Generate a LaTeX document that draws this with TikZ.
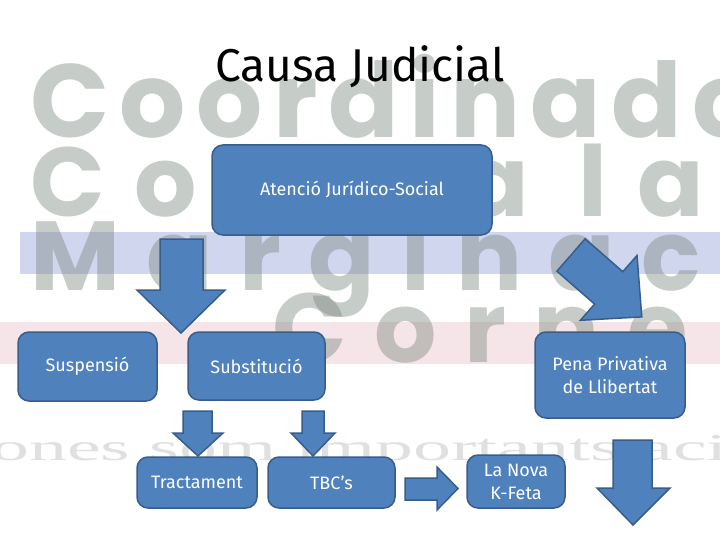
\documentclass[tikz,border=0pt]{standalone}
\usepackage{fontspec}
\setmainfont{Fira Sans}
\newfontfamily\bgfont{Poppins}
\newfontfamily\bgsmall{Liberation Serif}
\definecolor{boxfill}{RGB}{79,129,189}
\definecolor{boxline}{RGB}{56,93,138}
\definecolor{bggray}{RGB}{120,134,126}
\definecolor{bgblue}{RGB}{208,214,238}
\definecolor{bgpink}{RGB}{246,229,232}
\definecolor{bglight}{RGB}{200,200,200}
\tikzset{
  boxnode/.style={draw=boxline, fill=boxfill, line width=1.5pt, rounded corners=11pt,
    text=white, font=\fontsize{18}{23}\selectfont, align=center, inner sep=0pt},
  blockarrow/.style={draw=boxline, fill=boxfill, line width=1.5pt, line join=miter},
  bgword/.style={text=bggray, opacity=0.42, anchor=base west, inner sep=0pt,
    font=\bgfont\bfseries\fontsize{98}{98}\selectfont\addfontfeature{LetterSpace=28}}
}
\begin{document}
\begin{tikzpicture}[x=1pt,y=-1pt]
\useasboundingbox (0,0) rectangle (720,540);
\fill[white] (0,0) rectangle (720,540);
% faded background logo
\begin{scope}
\clip (0,0) rectangle (720,540);
\fill[bgblue] (20,232) rectangle (720,274);
\fill[bgpink] (0,322) rectangle (720,364);
\node[bgword, font=\bgfont\bfseries\fontsize{104}{104}\selectfont\addfontfeature{LetterSpace=10}] (bg1) at (30,138) {Coordinadora};
\node[bgword, font=\bgfont\bfseries\fontsize{98}{98}\selectfont\addfontfeature{LetterSpace=30}] (bg2) at (30,217) {Contra la};
\node[bgword, font=\bgfont\bfseries\fontsize{98}{98}\selectfont\addfontfeature{LetterSpace=27}] (bg3) at (30,290) {Marginació};
\node[bgword] (bg4) at (272,362) {Cornellà};
\node[text=bglight, opacity=0.55, anchor=base east, inner sep=0pt,
  font=\bgsmall\fontsize{38}{38}\selectfont] (bg5) at (728,460) {\scalebox{2.0}[1]{persones som importants aci}};
\end{scope}
% title
\node[anchor=base, inner sep=0pt, font=\fontsize{46}{46}\selectfont] (title) at (360,82) {Causa Judicial};
% boxes
\node[boxnode, minimum width=280pt, minimum height=90pt] (atencio) at (352,190) {Atenció Jurídico-Social};
\node[boxnode, minimum width=139pt, minimum height=69pt] (susp) at (87.5,366.5) {Suspensió};
\node[boxnode, minimum width=137pt, minimum height=68pt] (subst) at (256.5,366) {Substitució};
\node[boxnode, minimum width=150pt, minimum height=86pt] (pena) at (610,375) {Pena Privativa\\de Llibertat};
\node[boxnode, minimum width=120pt, minimum height=51pt] (tract) at (197,482.5) {Tractament};
\node[boxnode, minimum width=127pt, minimum height=51pt] (tbc) at (331.5,482.5) {TBC’s};
\node[boxnode, minimum width=98pt, minimum height=53pt] (nova) at (516,481.5) {La Nova\\K-Feta};
% block arrows
\draw[blockarrow] (160,239) -- (203,239) -- (203,290) -- (225,290) -- (181,333) -- (137,290) -- (160,290) -- cycle;
\draw[blockarrow] (585.1,238.8) -- (622.8,271.7) -- (637.0,255.5) -- (641.8,316.9) -- (580.4,320.3) -- (594.6,304.1) -- (556.9,271.2) -- cycle;
\draw[blockarrow] (183,411) -- (212,411) -- (212,433) -- (223,433) -- (198,456) -- (173,433) -- (183,433) -- cycle;
\draw[blockarrow] (302,411) -- (324,411) -- (324,433) -- (335,433) -- (313,456) -- (291,433) -- (302,433) -- cycle;
\draw[blockarrow] (405,478) -- (437,478) -- (437,467) -- (458,488.5) -- (437,510) -- (437,500) -- (405,500) -- cycle;
\draw[blockarrow] (613,440) -- (652,440) -- (652,488) -- (670,488) -- (633,525) -- (597,488) -- (613,488) -- cycle;
\end{tikzpicture}
\end{document}
